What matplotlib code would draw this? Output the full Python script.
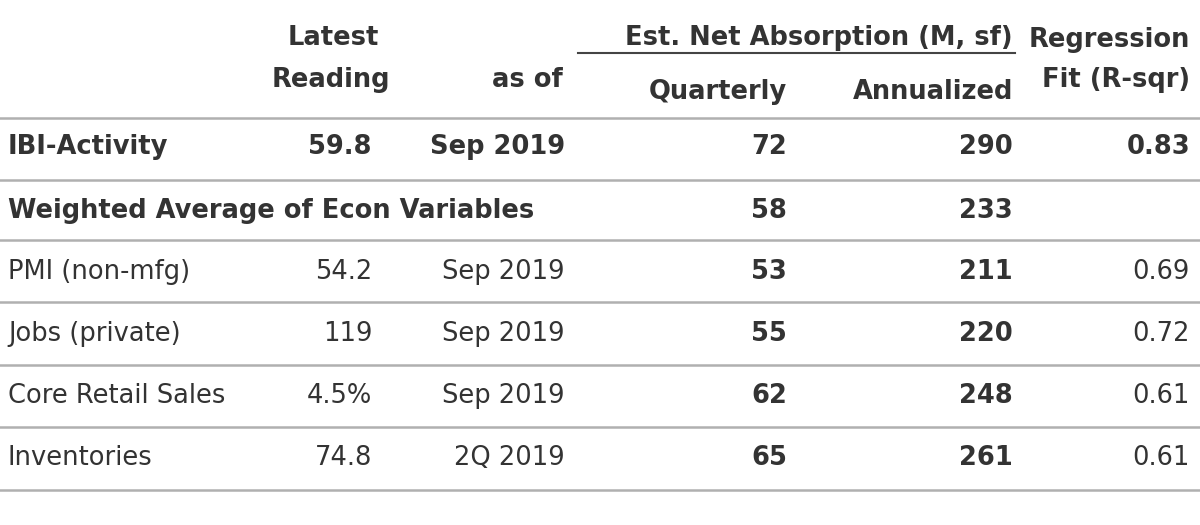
import matplotlib
matplotlib.use("Agg")
import matplotlib.pyplot as plt
from matplotlib.lines import Line2D

labels = ["IBI-Activity", "Weighted Average of Econ Variables", "PMI (non-mfg)",
          "Jobs (private)", "Core Retail Sales", "Inventories"]
latest = ["59.8", "", "54.2", "119", "4.5%", "74.8"]
as_of = ["Sep 2019", "", "Sep 2019", "Sep 2019", "Sep 2019", "2Q 2019"]
quarterly = ["72", "58", "53", "55", "62", "65"]
annualized = ["290", "233", "211", "220", "248", "261"]
rsqr = ["0.83", "", "0.69", "0.72", "0.61", "0.61"]

W, H = 1200, 525
fig = plt.figure(figsize=(W / 100, H / 100), dpi=100)
ax = fig.add_axes([0, 0, 1, 1])
ax.set_xlim(0, W)
ax.set_ylim(H, 0)
ax.axis("off")

txt = "#333333"
line_c = "#b0b0b0"
fs = 18.5
font = "DejaVu Sans"

def t(x, y, s, ha="right", bold=False):
    ax.text(x, y, s, ha=ha, va="center", fontsize=fs, color=txt,
            fontweight="bold" if bold else "normal", family=font)

# header
t(333, 38, "Latest", ha="center", bold=True)
t(390, 80, "Reading", bold=True)
t(563, 80, "as of", bold=True)
t(1013, 38, "Est. Net Absorption (M, sf)", bold=True)
ax.add_line(Line2D([578, 1015], [53, 53], color="#444444", lw=1.5))
t(787, 92, "Quarterly", bold=True)
t(1013, 92, "Annualized", bold=True)
t(1190, 40, "Regression", bold=True)
t(1190, 80, "Fit (R-sqr)", bold=True)

row_y = [147, 211, 272, 334, 396, 458]
line_y = [118, 180, 240, 302, 365, 427, 490]
for y in line_y:
    ax.add_line(Line2D([0, W], [y, y], color=line_c, lw=1.8))

for i, y in enumerate(row_y):
    head = i < 2
    t(8, y, labels[i], ha="left", bold=head)
    t(372, y, latest[i], bold=head)
    t(565, y, as_of[i], bold=head)
    t(787, y, quarterly[i], bold=True)
    t(1013, y, annualized[i], bold=True)
    t(1190, y, rsqr[i], bold=head)

fig.savefig("out.png", dpi=100, facecolor="white")
